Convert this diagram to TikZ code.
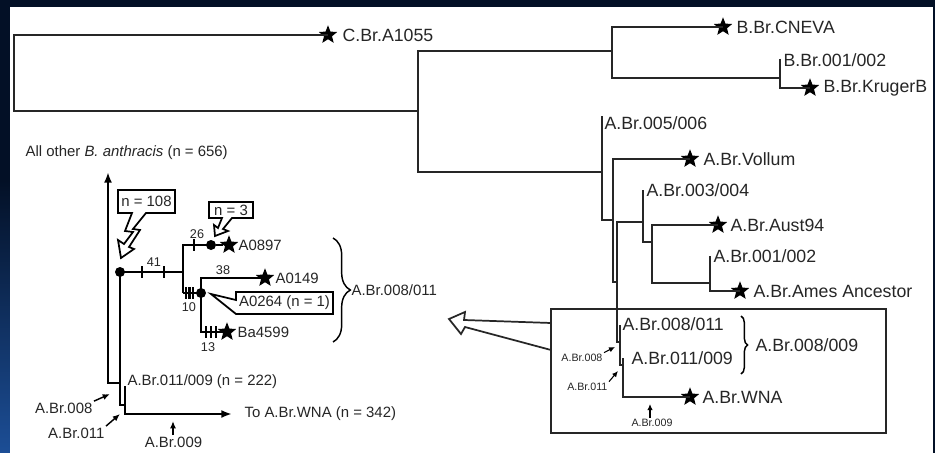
\documentclass[tikz,border=0pt]{standalone}
\usepackage{fontspec}
\setmainfont{Liberation Sans}
\usetikzlibrary{shapes.geometric,arrows.meta,decorations.pathreplacing}
\definecolor{slideNavy}{RGB}{3,16,38}
\definecolor{slideBlue}{RGB}{28,78,150}
\definecolor{treeInk}{RGB}{38,38,38}
\tikzset{
  branch/.style={draw=treeInk, line width=1pt},
  insetbranch/.style={draw=black, line width=1.6pt},
  leafstar/.style={star, star points=5, star point ratio=2.3, fill=black, inner sep=0pt, minimum size=14.5pt},
  dotnode/.style={circle, fill=black, inner sep=0pt, minimum size=7.5pt},
  bigtxt/.style={text=treeInk, font=\fontsize{13.3}{15}\selectfont, inner sep=1pt},
  insettxt/.style={text=treeInk, font=\fontsize{11.2}{13}\selectfont, inner sep=1pt},
  ticktxt/.style={text=treeInk, font=\fontsize{9.5}{11}\selectfont, inner sep=0pt},
  tinytxt/.style={text=treeInk, font=\fontsize{8}{9}\selectfont, inner sep=1pt},
  callout/.style={draw=black, line width=1.3pt, fill=white, line join=miter},
  tinyarrow/.style={draw=black, line width=0.8pt, -{Latex[length=4.5pt,width=4pt]}},
  insetarrow/.style={draw=black, line width=1.1pt, -{Latex[length=5.5pt,width=4.5pt]}},
  mainarrow/.style={insetbranch, -{Latex[length=8pt,width=6pt]}},
  bracedeco/.style={draw=black, line width=1.1pt, decorate}
}

\begin{document}
\begin{tikzpicture}[x=0.75pt, y=-0.75pt]
\useasboundingbox (0,0) rectangle (935,453);

%
\fill[slideNavy] (0,0) rectangle (935,453);
\shade[top color=slideNavy, bottom color=slideBlue] (0,180) rectangle (10,453);
\fill[white] (10,7) rectangle (933,453);

%
\node[leafstar] (cbr) at (328,35) {};
\node[bigtxt, anchor=west] (cbrL) at (341,35) {C.Br.A1055};
\coordinate (bRoot) at (612,51);
\coordinate (aRoot) at (602,172);
\draw[branch] (cbr.center) -| (14,111) -- (418,111);
\draw[branch] (bRoot) -| (418,111) |- (aRoot);

%
\node[leafstar] (cneva) at (723,27) {};
\node[bigtxt, anchor=west] (cnevaL) at (735,27) {B.Br.CNEVA};
\coordinate (b12) at (780,78);
\draw[branch] (cneva.center) -| (612,78) -- (b12);
\node[bigtxt, anchor=west] (b12L) at (782,60) {B.Br.001/002};
\node[leafstar] (kruger) at (810,88) {};
\node[bigtxt, anchor=west] (krugerL) at (822,88) {B.Br.KrugerB};
\draw[branch] (780,59) |- (kruger.center);

%
\node[bigtxt, anchor=west] (a56L) at (603,123) {A.Br.005/006};
\draw[branch] (602,116) -- (602,220) -- (613,220);
\node[leafstar] (vollum) at (690,159) {};
\node[bigtxt, anchor=west] (vollumL) at (702,159) {A.Br.Vollum};
\draw[branch] (vollum.center) -| (613,282) -- (617,282);
\draw[branch] (643,222) -| (617,342) -- (620,342);
\node[bigtxt, anchor=west] (a34L) at (645,190) {A.Br.003/004};
\draw[branch] (643,190) -- (643,242) -- (652,242);
\node[leafstar] (aust) at (718,225) {};
\node[bigtxt, anchor=west] (austL) at (729,225) {A.Br.Aust94};
\draw[branch] (aust.center) -| (652,283) -- (710,283);
\node[bigtxt, anchor=west] (a12L) at (712,256) {A.Br.001/002};
\node[leafstar] (ames) at (740,291) {};
\node[bigtxt, anchor=west] (amesL) at (752,291) {A.Br.Ames Ancestor};
\draw[branch] (710,256) |- (ames.center);

%
\draw[branch, line width=1.3pt] (551,309) rectangle (886,433);
\draw[branch, line width=1.3pt, line join=miter]
  (551,323) -- (464,320) -- (465,312) -- (449,319) -- (461,334) -- (465,327) -- (551,350);

%
\node[bigtxt, anchor=west] (a811L) at (621,324) {A.Br.008/011};
\draw[branch] (620,325) -- (620,365) -- (623,365);
\node[bigtxt, anchor=west] (a119L) at (630,358) {A.Br.011/009};
\node[leafstar] (wna) at (690,397) {};
\node[bigtxt, anchor=west] (wnaL) at (701,397) {A.Br.WNA};
\draw[branch] (623,358) |- (wna.center);
\draw[bracedeco, decoration={brace, amplitude=5pt}] (741,316) -- (741,374);
\node[bigtxt, anchor=west] (a89L) at (754,345) {A.Br.008/009};

%
\node[tinytxt, anchor=east] (s008) at (604,358) {A.Br.008};
\coordinate (s008tip) at (615,347);
\draw[tinyarrow] (s008.north east) -- (s008tip);
\node[tinytxt, anchor=east] (s011) at (609,387) {A.Br.011};
\coordinate (s011tip) at (618,371);
\draw[tinyarrow] (s011.north east) -- (s011tip);
\node[tinytxt] (s009) at (652,423) {A.Br.009};
\coordinate (s009tip) at (650,404);
\draw[tinyarrow] (s009.north -| s009tip) -- (s009tip);

%
\node[insettxt, anchor=west] (allOther) at (24,153) {All other \textit{B. anthracis} (n = 656)};
\coordinate (allTip) at (108,172);
\draw[mainarrow] (120,383) -| (allTip);

%
\node[dotnode] (d41) at (120,272) {};
\draw[insetbranch] (d41.center) -- (120,405) -- (125,405);
\draw[insetbranch] (d41.center) -- (183,272);
\foreach \x in {142,164}
  \draw[insetbranch] (\x,266) -- (\x,278);
\node[ticktxt] (t41) at (154,262) {41};

%
\node[dotnode] (d26) at (211,245) {};
\node[leafstar] (a0897) at (229,245) {};
\node[insettxt, anchor=west] (a0897L) at (237,245) {A0897};
\draw[insetbranch] (d26.center) -| (183,293);
\draw[insetbranch] (d26) -- (a0897);
\draw[insetbranch] (194,239) -- (194,251);
\node[ticktxt] (t26) at (197,234) {26};

%
\node[dotnode] (d10) at (201,293) {};
\draw[insetbranch] (183,293) -- (d10.center);
\foreach \x in {186,189.5,193}
  \draw[insetbranch] (\x,287) -- (\x,299);
\node[ticktxt] (t10) at (189,307) {10};
\node[leafstar] (a0149) at (265,278) {};
\node[insettxt, anchor=west] (a0149L) at (274,278) {A0149};
\node[leafstar] (ba4599) at (227,332) {};
\node[insettxt, anchor=west] (ba4599L) at (236,332) {Ba4599};
\draw[insetbranch] (a0149.center) -| (201,332) -- (ba4599.center);
\foreach \x in {206,211,216}
  \draw[insetbranch] (\x,326) -- (\x,338);
\node[ticktxt] (t38) at (223,270) {38};
\node[ticktxt] (t13) at (208,347) {13};

%
\draw[callout] (118,190) -- (175,190) -- (175,213) -- (146,213) -- (133,229) -- (140,230)
  -- (129,247) -- (134,249) -- (121,258) -- (118,240) -- (124,244) -- (133,232)
  -- (125,231) -- (132,213) -- (118,213) -- cycle;
\node[insettxt] (n108) at (146.5,201.5) {n = 108};
\draw[callout] (209,202) -- (253,202) -- (253,218) -- (232,218) -- (223,229) -- (228,231)
  -- (215,236) -- (214,225) -- (218,228) -- (222,218) -- (209,218) -- cycle;
\node[insettxt] (n3) at (231,210) {n = 3};
\draw[callout] (211,294) -- (236,300) -- (236,292) -- (333,292) -- (333,314) -- (236,314) -- cycle;
\node[insettxt] (a0264) at (284.5,303) {A0264 (n = 1)};

%
\draw[bracedeco, decoration={brace, amplitude=13pt}] (333,238) -- (333,342);
\node[insettxt, anchor=west] (a811i) at (350,290) {A.Br.008/011};

%
\node[insettxt, anchor=west] (i119L) at (126,382) {A.Br.011/009 (n = 222)};
\coordinate (wnaTip) at (232,414);
\draw[mainarrow] (125,386) |- (wnaTip);
\node[insettxt, anchor=west] (toWna) at (243,414) {To A.Br.WNA (n = 342)};

%
\node[insettxt, anchor=east] (i008) at (94,408) {A.Br.008};
\coordinate (i008tip) at (110,394);
\draw[insetarrow] (i008.north east) -- (i008tip);
\node[insettxt, anchor=east] (i011) at (106,433) {A.Br.011};
\coordinate (i011tip) at (120,414);
\draw[insetarrow] (i011.north east) -- (i011tip);
\node[insettxt] (i009) at (173.5,442) {A.Br.009};
\coordinate (i009tip) at (173,421);
\draw[insetarrow] (i009.north -| i009tip) -- (i009tip);

\end{tikzpicture}
\end{document}
